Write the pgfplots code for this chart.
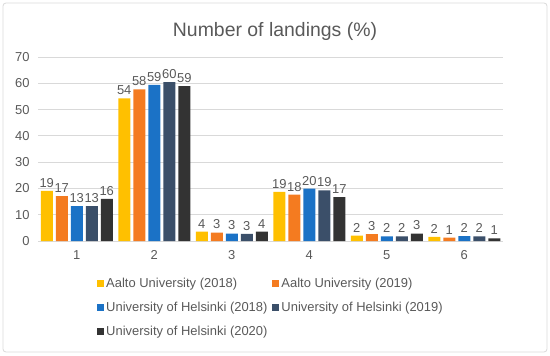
\documentclass[border=0pt]{standalone}
\usepackage{fontspec}
\setmainfont{Liberation Sans}
\usepackage{pgfplots}
\pgfplotsset{compat=1.18}
\definecolor{cA}{HTML}{FFC000}
\definecolor{cB}{HTML}{F47B20}
\definecolor{cC}{HTML}{1B72C6}
\definecolor{cD}{HTML}{3B4F69}
\definecolor{cE}{HTML}{333333}
\definecolor{txt}{HTML}{595959}
\definecolor{grd}{HTML}{D9D9D9}
\begin{document}
\begin{tikzpicture}[x=1bp,y=1bp]
\useasboundingbox (0,0) rectangle (550,355);
\draw[grd, line width=0.8bp, rounded corners=3bp] (3,3) rectangle (547,352);
\node[txt, font=\fontsize{19.5}{22}\selectfont] at (275,324) {Number of landings (\%)};
\begin{axis}[at={(38bp,114bp)}, anchor=south west, scale only axis,
  width=465bp, height=184bp,
  ymin=0, ymax=70, xmin=0.5, xmax=6.5,
  ytick={0,10,...,70}, xtick={1,...,6},
  ybar=3bp, bar width=12bp,
  axis line style={draw=none},
  ymajorgrids, grid style={grd, line width=0.8bp},
  major tick length=0pt,
  tick label style={txt, font=\fontsize{13}{15}\selectfont},
  xticklabel style={yshift=-6bp},
  yticklabel style={xshift=-5bp},
  /pgf/number format/assume math mode=true,
  nodes near coords,
  nodes near coords style={txt, font=\fontsize{13}{15}\selectfont,
    /pgf/number format/fixed, /pgf/number format/precision=0},
  legend columns=2,
  legend cell align=left,
  legend style={at={(0.127,-0.19)}, anchor=north west, draw=none, fill=none,
    inner sep=0pt, font=\fontsize{13}{15}\selectfont, text=txt,
    row sep=9bp,
    /tikz/every even column/.append style={column sep=3bp}},
  legend image code/.code={\fill[#1] (0bp,-3.5bp) rectangle (7bp,3.5bp);},
]
\addplot[draw=none, fill=cA] coordinates {(1,19.1)(2,54.3)(3,3.6)(4,18.7)(5,2.0)(6,1.6)};
\addplot[draw=none, fill=cB] coordinates {(1,17.1)(2,57.7)(3,3.2)(4,17.6)(5,2.6)(6,1.3)};
\addplot[draw=none, fill=cC] coordinates {(1,13.3)(2,59.4)(3,2.8)(4,19.9)(5,1.8)(6,1.9)};
\addplot[draw=none, fill=cD] coordinates {(1,13.3)(2,60.4)(3,2.7)(4,19.3)(5,1.8)(6,1.8)};
\addplot[draw=none, fill=cE] coordinates {(1,16.0)(2,58.9)(3,3.6)(4,16.7)(5,2.8)(6,1.0)};
\legend{Aalto University (2018), Aalto University (2019), University of Helsinki (2018), University of Helsinki (2019), University of Helsinki (2020)}
\end{axis}
\end{tikzpicture}
\end{document}
